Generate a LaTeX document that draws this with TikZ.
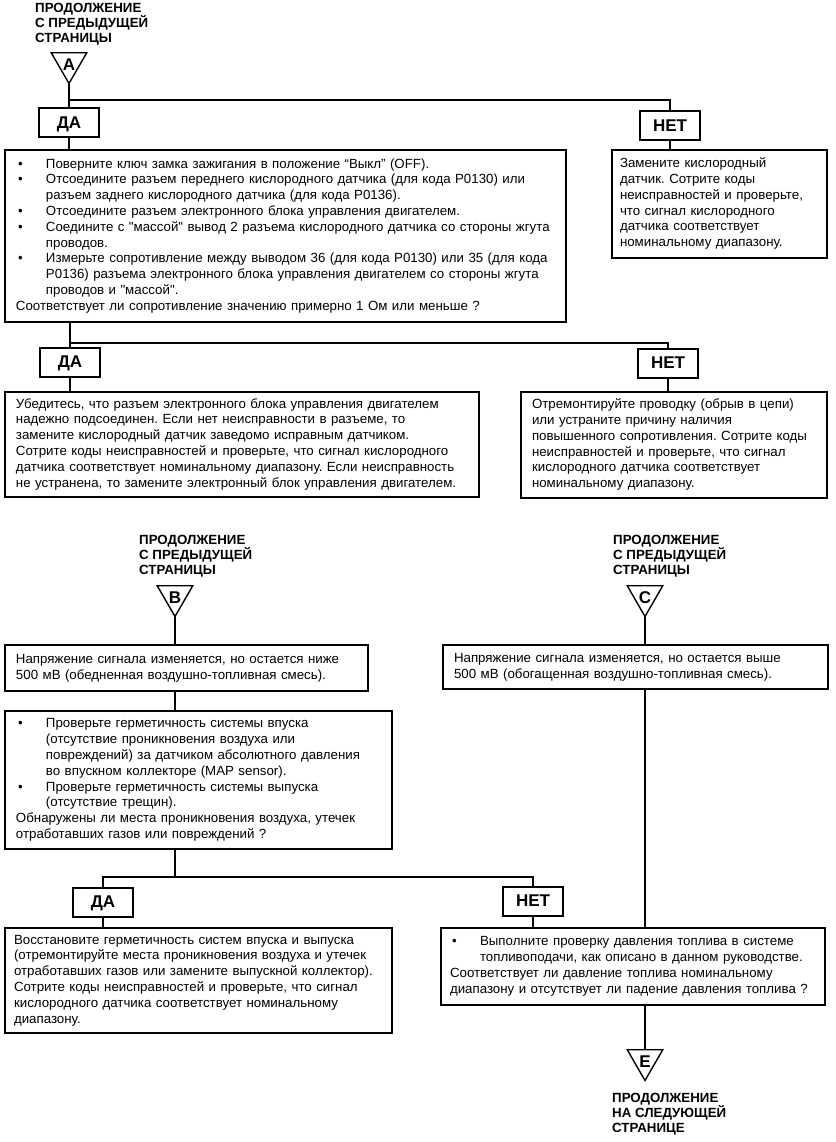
\documentclass[tikz,border=0pt]{standalone}
\usepackage{fontspec}
\setmainfont{Liberation Sans}
\usetikzlibrary{shapes.geometric}
\frenchspacing
% bullet with hanging indent
\newcommand{\itembul}{\makebox[30pt][l]{\hspace{2pt}•}}
\newcommand{\hind}{\hspace*{30pt}}
% straight double quote
\newcommand{\sq}{\textquotedbl}
% lines of a box, broken by hand
\newcommand{\boxlines}[1]{\noindent\begin{tabular}{@{}l@{}}#1\end{tabular}}

\begin{document}
\begin{tikzpicture}[x=1pt, y=-1pt,
	wire/.style={line width=2pt},
	txtbox/.style={draw, line width=2pt, anchor=north west, outer sep=0pt, inner xsep=11pt, inner ysep=0pt, align=left, font=\fontsize{13.3}{15.8}\selectfont},
	answer/.style={draw, line width=2pt, minimum width=60pt, minimum height=29pt, inner sep=0pt, outer sep=0pt, text depth=0pt, font=\bfseries\fontsize{17}{17}\selectfont},
	tri/.style={regular polygon, regular polygon sides=3, shape border rotate=180, draw, line width=1.4pt, minimum size=41pt, inner sep=0pt, outer sep=0pt},
	letter/.style={inner sep=0pt, yshift=-2pt, font=\bfseries\fontsize{17}{17}\selectfont},
	cont/.style={anchor=north west, align=left, inner sep=0pt, font=\bfseries\fontsize{13.3}{14.8}\selectfont}]
	\useasboundingbox (0,0) rectangle (835,1142);
	% page 1: entry A
	\node[cont] (contA) at (35,3) {ПРОДОЛЖЕНИЕ\\С ПРЕДЫДУЩЕЙ\\СТРАНИЦЫ};
	\node[tri] (A) at (69,63) {};
	\node[letter] (Aname) at (A.center) {A};
	\node[answer] (da1) at (69,123) {ДА};
	\node[answer] (net1) at (670,126) {НЕТ};
	\coordinate (j1) at (69,100);
	\node[txtbox, text width=539pt, minimum height=172pt] (q1) at (5,150) {\boxlines{%
		\itembul Поверните ключ замка зажигания в положение “Выкл” (OFF).\\
		\itembul Отсоедините разъем переднего кислородного датчика (для кода P0130) или\\
		\hind разъем заднего кислородного датчика (для кода P0136).\\
		\itembul Отсоедините разъем электронного блока управления двигателем.\\
		\itembul Соедините с \sq массой\sq\ вывод 2 разъема кислородного датчика со стороны жгута\\
		\hind проводов.\\
		\itembul Измерьте сопротивление между выводом 36 (для кода P0130) или 35 (для кода\\
		\hind P0136) разъема электронного блока управления двигателем со стороны жгута\\
		\hind проводов и \sq массой\sq.\\
		Соответствует ли сопротивление значению примерно 1 Ом или меньше ?}};
	\node[txtbox, inner xsep=8pt, text width=199pt, minimum height=108pt] (r1) at (612,150) {\boxlines{%
		Замените кислородный\\
		датчик. Сотрите коды\\
		неисправностей и проверьте,\\
		что сигнал кислородного\\
		датчика соответствует\\
		номинальному диапазону.}};
	\draw[wire] (A.south) -- (da1.north);
	\draw[wire] (j1) -| (net1.north);
	\draw[wire] (da1.south) -- (da1.south |- q1.north);
	\draw[wire] (net1.south) -- (net1.south |- r1.north);

	% answer to q1
	\node[answer] (da2) at (70,362) {ДА};
	\node[answer] (net2) at (668,363) {НЕТ};
	\coordinate (j2) at (70,343);
	\node[txtbox, text width=452pt, minimum height=105pt] (y2) at (5,392) {\boxlines{%
		Убедитесь, что разъем электронного блока управления двигателем\\
		надежно подсоединен. Если нет неисправности в разъеме, то\\
		замените кислородный датчик заведомо исправным датчиком.\\
		Сотрите коды неисправностей и проверьте, что сигнал кислородного\\
		датчика соответствует номинальному диапазону. Если неисправность\\
		не устранена, то замените электронный блок управления двигателем.}};
	\node[txtbox, text width=284pt, minimum height=106pt] (n2) at (521,392) {\boxlines{%
		Отремонтируйте проводку (обрыв в цепи)\\
		или устраните причину наличия\\
		повышенного сопротивления. Сотрите коды\\
		неисправностей и проверьте, что сигнал\\
		кислородного датчика соответствует\\
		номинальному диапазону.}};
	\draw[wire] (da2.north |- q1.south) -- (da2.north);
	\draw[wire] (j2) -| (net2.north);
	\draw[wire] (da2.south) -- (da2.south |- y2.north);
	\draw[wire] (net2.south) -- (net2.south |- n2.north);

	% entry B
	\node[cont] (contB) at (139,535) {ПРОДОЛЖЕНИЕ\\С ПРЕДЫДУЩЕЙ\\СТРАНИЦЫ};
	\node[tri] (B) at (175,596) {};
	\node[letter] (Bname) at (B.center) {B};
	\node[txtbox, text width=341pt, minimum height=46pt] (b1) at (5,645) {\boxlines{%
		Напряжение сигнала изменяется, но остается ниже\\
		500 мВ (обедненная воздушно-топливная смесь).}};
	\node[txtbox, text width=365pt, minimum height=138pt] (b2) at (5,711) {\boxlines{%
		\itembul Проверьте герметичность системы впуска\\
		\hind (отсутствие проникновения воздуха или\\
		\hind повреждений) за датчиком абсолютного давления\\
		\hind во впускном коллекторе (MAP sensor).\\
		\itembul Проверьте герметичность системы выпуска\\
		\hind (отсутствие трещин).\\
		Обнаружены ли места проникновения воздуха, утечек\\
		отработавших газов или повреждений ?}};
	\draw[wire] (B.south) -- (B.south |- b1.north);
	\draw[wire] (B.south |- b1.south) -- (B.south |- b2.north);

	% entry C
	\node[cont] (contC) at (613,535) {ПРОДОЛЖЕНИЕ\\С ПРЕДЫДУЩЕЙ\\СТРАНИЦЫ};
	\node[tri] (C) at (645,596) {};
	\node[letter] (Cname) at (C.center) {C};
	\node[txtbox, text width=363pt, minimum height=44pt] (c1) at (443,645) {\boxlines{%
		Напряжение сигнала изменяется, но остается выше\\
		500 мВ (обогащенная воздушно-топливная смесь).}};
	\draw[wire] (C.south) -- (C.south |- c1.north);

	% answer to b2
	\coordinate (j3) at (175,877);
	\node[answer] (da3) at (103,902) {ДА};
	\node[answer] (net3) at (533,901) {НЕТ};
	\node[txtbox, inner xsep=9pt, text width=369pt, minimum height=105pt] (y3) at (5,928) {\boxlines{%
		Восстановите герметичность систем впуска и выпуска\\
		(отремонтируйте места проникновения воздуха и утечек\\
		отработавших газов или замените выпускной коллектор).\\
		Сотрите коды неисправностей и проверьте, что сигнал\\
		кислородного датчика соответствует номинальному\\
		диапазону.}};
	\node[txtbox, inner xsep=9pt, text width=366pt, minimum height=77pt] (n3) at (441,928) {\boxlines{%
		\itembul Выполните проверку давления топлива в системе\\
		\hind топливоподачи, как описано в данном руководстве.\\
		Соответствует ли давление топлива номинальному\\
		диапазону и отсутствует ли падение давления топлива ?}};
	\draw[wire] (B.south |- b2.south) -- (j3);
	\draw[wire] (da3.north) -- (da3.north |- j3) -- (net3.north |- j3) -- (net3.north);
	\draw[wire] (da3.south) -- (da3.south |- y3.north);
	\draw[wire] (net3.south) -- (net3.south |- n3.north);
	\draw[wire] (C.south |- c1.south) -- (C.south |- n3.north);

	% exit E
	\node[tri] (E) at (645,1060) {};
	\node[letter] (Ename) at (E.center) {E};
	\node[cont] (contE) at (612,1093) {ПРОДОЛЖЕНИЕ\\НА СЛЕДУЮЩЕЙ\\СТРАНИЦЕ};
	\draw[wire] (C.south |- n3.south) -- (E.north);
\end{tikzpicture}
\end{document}
